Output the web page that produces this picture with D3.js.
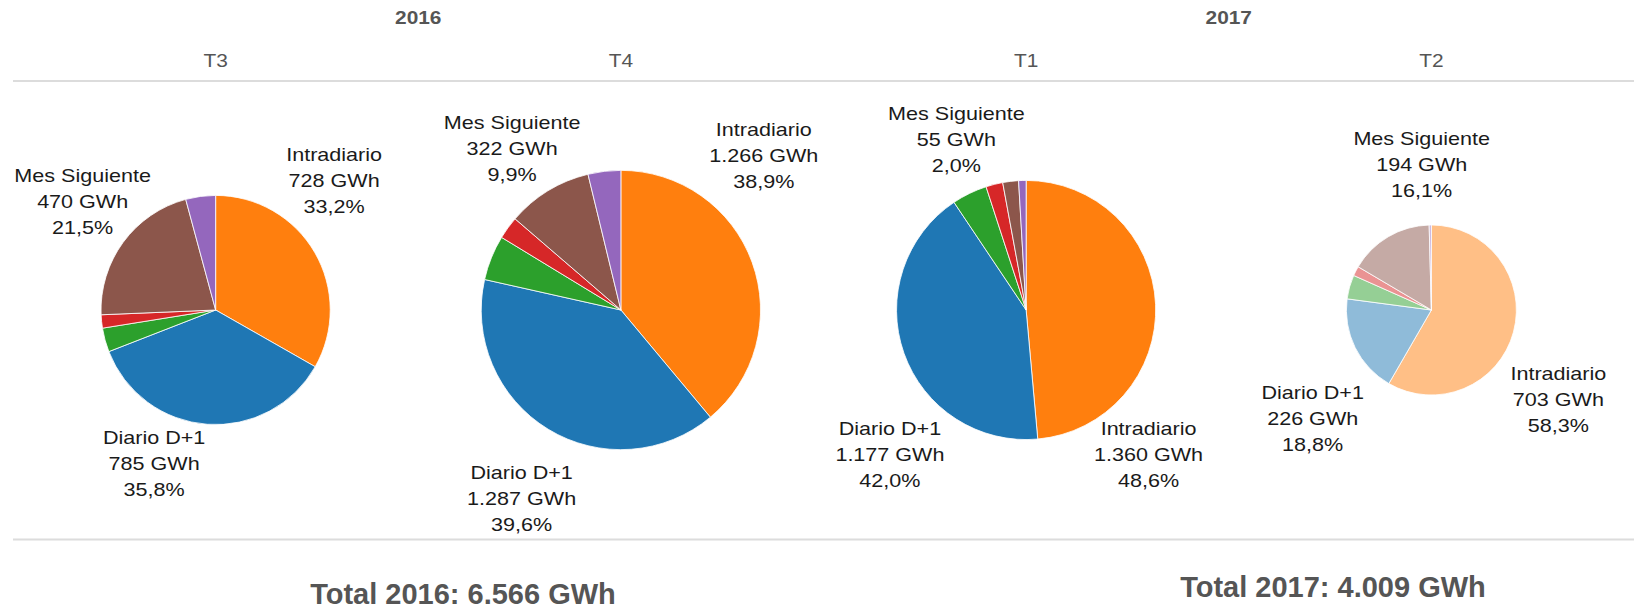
<!DOCTYPE html>
<html>
<head>
<meta charset="utf-8">
<script src="https://cdn.jsdelivr.net/npm/d3@7"></script>
<style>
    body { margin: 0; background: #fff; }
    svg { display: block; }
    text { font-family: "Liberation Sans", Arial, sans-serif; }
</style>
</head>
<body>
<svg id="chart"></svg>
<script>
// datos por trimestre (GWh), orden de los sectores en sentido horario desde las 12
const categories = ['Intradiario', 'Diario D+1', 'Semana Siguiente', 'Fin de Semana', 'Mes Siguiente', 'Trimestre Siguiente'];
const colors = ['#ff7f0e', '#1f77b4', '#2ca02c', '#d62728', '#8c564b', '#9467bd'];
const quarters = ['T3', 'T4', 'T1', 'T2'];
const quarterYears = ['2016', '2016', '2017', '2017'];
const years = ['2016', '2017'];
const gwhT3 = [728, 785, 74, 41, 470, 92];
const gwhT4 = [1266, 1287, 169, 85, 322, 123];
const gwhT1 = [1360, 1177, 123, 59, 55, 26];
const gwhT2 = [703, 226, 55, 22, 194, 5];
const yearTotals = ['6.566', '4.009'];
const labelled = ['Intradiario', 'Diario D+1', 'Mes Siguiente'];
// el último trimestre se pinta atenuado
const faded = [false, false, false, true];

// colocación de etiquetas: ángulo (grados) y separación respecto al borde
const labelAngle = [[44, 201, 307.5], [44, 207, 325], [141, 222, 337], [127, 226, 356]];
const labelGap = [[56, 57, 53], [66, 79, 50], [65, 74, 49], [74, 80, 54]];

const W = 1634, H = 611;
const stretch = 1.16;
const svg = d3.select('#chart').attr('width', W).attr('height', H);

const series = [gwhT3, gwhT4, gwhT1, gwhT2];
const totals = series.map(d => d3.sum(d));

const x = d3.scaleBand().domain(quarters).range([13, W]);
const r = d3.scaleSqrt().domain([0, totals[0]]).range([0, 114.6]);
const cy = 310;

const fmtGwh = v => d3.format(',')(v).replace(/,/g, '.') + ' GWh';
const fmtPct = v => d3.format('.1f')(v * 100).replace('.', ',') + '%';

// líneas separadoras
svg.selectAll('line.sep')
    .data([81, 539.5])
    .enter().append('line')
    .attr('class', 'sep')
    .attr('x1', 13).attr('x2', W)
    .attr('y1', d => d).attr('y2', d => d)
    .attr('stroke', '#dcdcdc')
    .attr('stroke-width', 2);

// cabecera: años y trimestres
years.forEach(function(y) {
    let qs = quarters.filter((q, i) => quarterYears[i] === y);
    let cx = d3.mean(qs, q => x(q) + x.bandwidth() / 2);
    svg.append('g')
        .attr('transform', 'translate(' + cx + ',24) scale(' + stretch + ',1)')
        .append('text')
        .attr('text-anchor', 'middle')
        .attr('font-size', 18)
        .attr('font-weight', 'bold')
        .attr('fill', '#555')
        .text(y);
});

quarters.forEach(function(q) {
    svg.append('g')
        .attr('transform', 'translate(' + (x(q) + x.bandwidth() / 2) + ',66.5) scale(' + stretch + ',1)')
        .append('text')
        .attr('text-anchor', 'middle')
        .attr('font-size', 18)
        .attr('fill', '#555')
        .text(q);
});

const pie = d3.pie().sort(null).value(d => d.value);

series.forEach(function(vals, qi) {
    let cx = x(quarters[qi]) + x.bandwidth() / 2;
    let radius = r(totals[qi]);
    let data = vals.map((v, i) => ({ key: categories[i], value: v, color: colors[i] }));
    let arcs = pie(data);
    let arc = d3.arc().innerRadius(0).outerRadius(radius);

    let g = svg.append('g')
        .attr('class', 'pie')
        .attr('transform', 'translate(' + cx + ',' + cy + ')');

    g.selectAll('path')
        .data(arcs)
        .enter().append('path')
        .attr('d', arc)
        .attr('fill', d => d.data.color)
        .attr('fill-opacity', faded[qi] ? 0.5 : 1)
        .attr('stroke', '#fff')
        .attr('stroke-width', 0.8);

    // etiquetas de los tres productos principales
    labelled.forEach(function(name, li) {
        let d = arcs.find(a => a.data.key === name);
        let p = d3.pointRadial(labelAngle[qi][li] * Math.PI / 180, radius + labelGap[qi][li]);
        let t = g.append('g')
            .attr('transform', 'translate(' + p[0] + ',' + p[1] + ') scale(' + stretch + ',1)')
            .append('text')
            .attr('text-anchor', 'middle')
            .attr('font-size', 18.6)
            .attr('fill', '#1a1a1a');
        [name, fmtGwh(d.data.value), fmtPct(d.data.value / totals[qi])].forEach(function(line, k) {
            t.append('tspan')
                .attr('x', 0)
                .attr('y', (k - 1) * 26)
                .text(line);
        });
    });
});

// totales anuales
const totalPos = [[463, 604], [1333, 597]];
years.forEach(function(y, i) {
    svg.append('text')
        .attr('x', totalPos[i][0])
        .attr('y', totalPos[i][1])
        .attr('text-anchor', 'middle')
        .attr('font-size', 29)
        .attr('font-weight', 'bold')
        .attr('fill', '#555')
        .text('Total ' + y + ': ' + yearTotals[i] + ' GWh');
});
</script>
</body>
</html>
